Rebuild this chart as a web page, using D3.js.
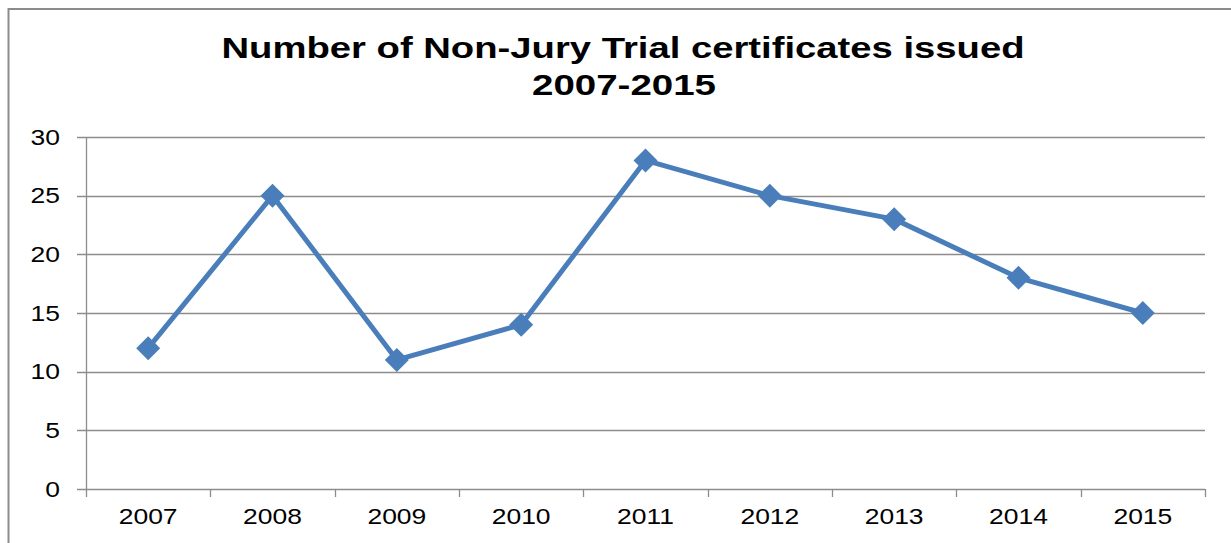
<!DOCTYPE html>
<html>
<head>
<meta charset="utf-8">
<script src="https://cdn.jsdelivr.net/npm/d3@7"></script>
<style>
  body { margin: 0; background: #fff; }
  svg text { font-family: "Liberation Sans", Arial, sans-serif; fill: #000; }
</style>
</head>
<body>
<div id="chart"></div>
<script>
'use strict';

var years = ['2007', '2008', '2009', '2010', '2011', '2012', '2013', '2014', '2015'];
var certificates = [12, 25, 11, 14, 28, 25, 23, 18, 15];
var yTicks = [0, 5, 10, 15, 20, 25, 30];
var titleLines = ['Number of Non-Jury Trial certificates issued', '2007-2015'];

var width = 1231,
    height = 543,
    margin = { top: 137, right: 26, bottom: 54, left: 86 },
    stretch = 1.23, // the picture is wider than tall text would suggest
    blue = '#4A7EBB',
    grey = '#8c8c8c';

var svg = d3.select('#chart').append('svg')
  .attr('width', width)
  .attr('height', height);

// outer frame
svg.append('rect')
  .attr('x', 8.5).attr('y', 9)
  .attr('width', width + 20).attr('height', height + 20)
  .attr('fill', 'none')
  .attr('stroke', grey)
  .attr('stroke-width', 2);

var x = d3.scaleBand().domain(years).range([margin.left, width - margin.right]),
    y = d3.scaleLinear().domain([0, 30]).range([height - margin.bottom, margin.top]);

// title
svg.append('text')
  .attr('x', 623).attr('y', 58)
  .attr('text-anchor', 'middle')
  .attr('font-size', 29).attr('font-weight', 'bold')
  .attr('textLength', 803).attr('lengthAdjust', 'spacingAndGlyphs')
  .text(titleLines[0]);
svg.append('text')
  .attr('x', 624).attr('y', 95)
  .attr('text-anchor', 'middle')
  .attr('font-size', 29).attr('font-weight', 'bold')
  .attr('textLength', 184).attr('lengthAdjust', 'spacingAndGlyphs')
  .text(titleLines[1]);

// horizontal gridlines + y ticks
svg.append('g').selectAll('line').data(yTicks).enter().append('line')
  .attr('x1', margin.left - 9).attr('x2', width - margin.right)
  .attr('y1', function (d) { return Math.round(y(d)) + 0.5; })
  .attr('y2', function (d) { return Math.round(y(d)) + 0.5; })
  .attr('stroke', grey).attr('stroke-width', 1.3);

svg.append('g').selectAll('text').data(yTicks).enter().append('text')
  .attr('transform', function (d) { return 'translate(60,' + (y(d) + 7.5) + ') scale(' + stretch + ',1)'; })
  .attr('text-anchor', 'end')
  .attr('font-size', 21.5)
  .text(function (d) { return d; });

// y axis line
svg.append('line')
  .attr('x1', margin.left + 0.5).attr('x2', margin.left + 0.5)
  .attr('y1', y(30)).attr('y2', y(0))
  .attr('stroke', grey).attr('stroke-width', 1.3);

// x category ticks between bands
var xTickPos = years.map(function (d) { return x(d); }).concat([width - margin.right]);
svg.append('g').selectAll('line').data(xTickPos).enter().append('line')
  .attr('x1', function (d) { return Math.round(d) + 0.5; })
  .attr('x2', function (d) { return Math.round(d) + 0.5; })
  .attr('y1', y(0)).attr('y2', y(0) + 8)
  .attr('stroke', grey).attr('stroke-width', 1.3);

svg.append('g').selectAll('text').data(years).enter().append('text')
  .attr('transform', function (d) {
    return 'translate(' + (x(d) + x.bandwidth() / 2) + ',524) scale(' + stretch + ',1)';
  })
  .attr('text-anchor', 'middle')
  .attr('font-size', 21.5)
  .text(function (d) { return d; });

// series line
var line = d3.line()
  .x(function (d, i) { return x(years[i]) + x.bandwidth() / 2; })
  .y(function (d) { return y(d); });

svg.append('path')
  .datum(certificates)
  .attr('d', line)
  .attr('fill', 'none')
  .attr('stroke', blue)
  .attr('stroke-width', 5)
  .attr('stroke-linejoin', 'round');

// diamond markers
svg.append('g').selectAll('path').data(certificates).enter().append('path')
  .attr('d', 'M0,-12L12,0L0,12L-12,0Z')
  .attr('transform', function (d, i) {
    return 'translate(' + (x(years[i]) + x.bandwidth() / 2) + ',' + y(d) + ')';
  })
  .attr('fill', blue);
</script>
</body>
</html>
